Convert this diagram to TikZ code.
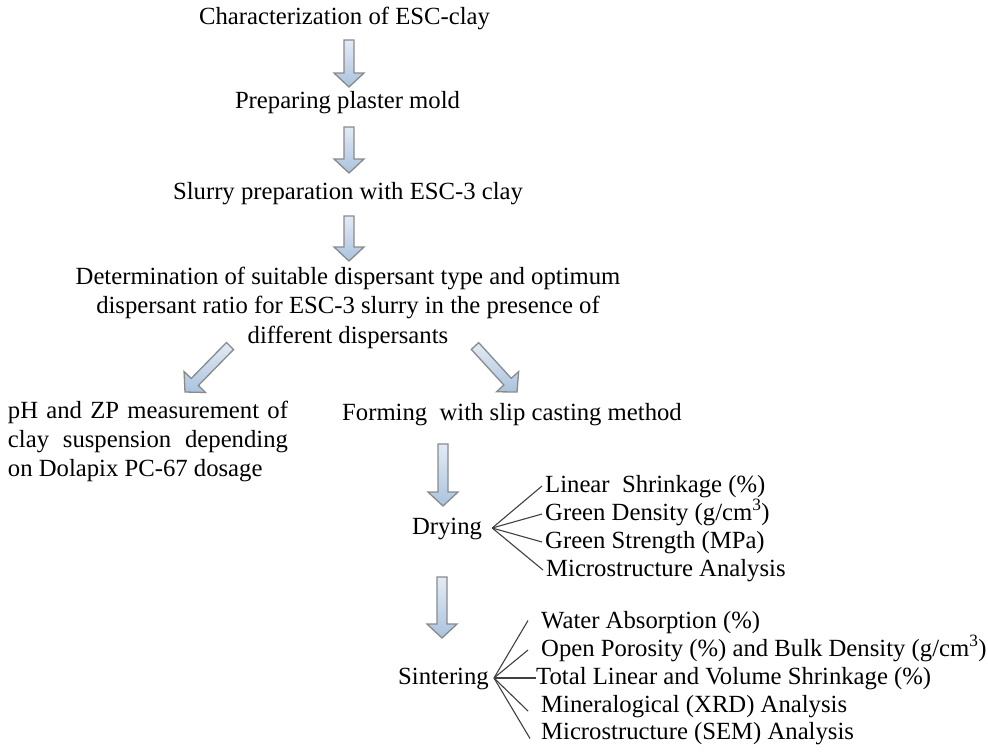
\documentclass[tikz,border=0pt]{standalone}
\usepackage{fontspec}
\setmainfont{Liberation Serif}
\usetikzlibrary{calc}
\definecolor{arrtop}{HTML}{E2EBF5}
\definecolor{arrbot}{HTML}{A9C3DE}
\definecolor{arredge}{HTML}{8A8A8A}
\definecolor{fanline}{HTML}{404040}
\newcommand\BArr[2]{%
  \coordinate (tmpN) at ($(#2)!14pt!(#1)$);
  \path[barrow] ($(#1)!5pt!90:(#2)$) -- ($(tmpN)!5pt!90:(#2)$) -- ($(tmpN)!15pt!90:(#2)$) -- (#2)
    -- ($(tmpN)!15pt!-90:(#2)$) -- ($(tmpN)!5pt!-90:(#2)$) -- ($(#1)!5pt!-90:(#2)$) -- cycle;}
\newcommand\st{\rule[-5pt]{0pt}{22pt}}
\begin{document}
\begin{tikzpicture}[x=1pt,y=-1pt,
  txt/.style={inner sep=0pt, font=\fontsize{24.7pt}{28pt}\selectfont},
  one/.style={txt, text height=17pt, text depth=5pt},
  item/.style={one, anchor=west},
  barrow/.style={draw=arredge, line width=1.3pt, line join=miter, top color=arrtop, bottom color=arrbot},
  fan/.style={draw=fanline, line width=1.1pt}]
\useasboundingbox (0,0) rectangle (988,753);

\node[one] (n1) at (344.5,18) {Characterization of ESC-clay};
\node[one] (n2) at (347.5,102) {Preparing plaster mold};
\node[one] (n3) at (348,193) {Slurry preparation with ESC-3 clay};
\node[txt, align=center, font=\fontsize{24.7pt}{29.5pt}\selectfont] (n4) at (348,307.5)
  {\st Determination of suitable dispersant type and optimum\\\st dispersant ratio for ESC-3 slurry in the presence of\\\st different dispersants};
\node[txt, text width=280pt, align=justify, font=\fontsize{24.7pt}{29pt}\selectfont] (n5) at (148,441)
  {\st pH and ZP measurement of\linebreak\st clay suspension depending\linebreak\st on Dolapix PC-67 dosage};
\node[one] (n6) at (512,414) {Forming\ \ with slip casting method};
\node[one] (n7) at (447,528) {Drying};
\node[one] (n8) at (443.5,678) {Sintering};

\node[item] (d1) at (545,486) {Linear\ \ Shrinkage (\%)};
\node[item] (d2) at (545,514) {Green Density (g/cm\textsuperscript{3})};
\node[item] (d3) at (545,542) {Green Strength (MPa)};
\node[item] (d4) at (546,570) {Microstructure Analysis};

\node[item] (s1) at (541,622.5) {Water Absorption (\%)};
\node[item] (s2) at (541,650) {Open Porosity (\%) and Bulk Density (g/cm\textsuperscript{3})};
\node[item] (s3) at (536,678) {Total Linear and Volume Shrinkage (\%)};
\node[item] (s4) at (541,706) {Mineralogical (XRD) Analysis};
\node[item] (s5) at (541,733.5) {Microstructure (SEM) Analysis};

% block arrows
\coordinate (a1s) at (349,40);   \coordinate (a1e) at (349,87);
\coordinate (a2s) at (349,127);  \coordinate (a2e) at (349,173);
\coordinate (a3s) at (349,216);  \coordinate (a3e) at (349,261);
\coordinate (a4s) at (230,346);  \coordinate (a4e) at (185,392);
\coordinate (a5s) at (475,346);  \coordinate (a5e) at (517,392);
\coordinate (a6s) at (443,444);  \coordinate (a6e) at (443,506);
\coordinate (a7s) at (442,577);  \coordinate (a7e) at (442,638);
\BArr{a1s}{a1e}
\BArr{a2s}{a2e}
\BArr{a3s}{a3e}
\BArr{a4s}{a4e}
\BArr{a5s}{a5e}
\BArr{a6s}{a6e}
\BArr{a7s}{a7e}

% fans
\coordinate (dap) at ($(n7.east)+(10,0)$);
\foreach \k in {d1,d2,d3,d4} \draw[fan] (dap) -- ([xshift=-3pt]\k.west);
\coordinate (sap) at ($(n8.east)+(5,0)$);
\draw[fan] (sap) -- ([xshift=-13pt,yshift=2pt]s1.west);
\draw[fan] (sap) -- ([xshift=-13pt]s2.west);
\draw[fan] (sap) -- (s3.west);
\draw[fan] (sap) -- ([xshift=-13pt,yshift=-5pt]s4.west);
\draw[fan] (sap) -- ([xshift=-11pt,yshift=-5pt]s5.west);
\end{tikzpicture}
\end{document}
